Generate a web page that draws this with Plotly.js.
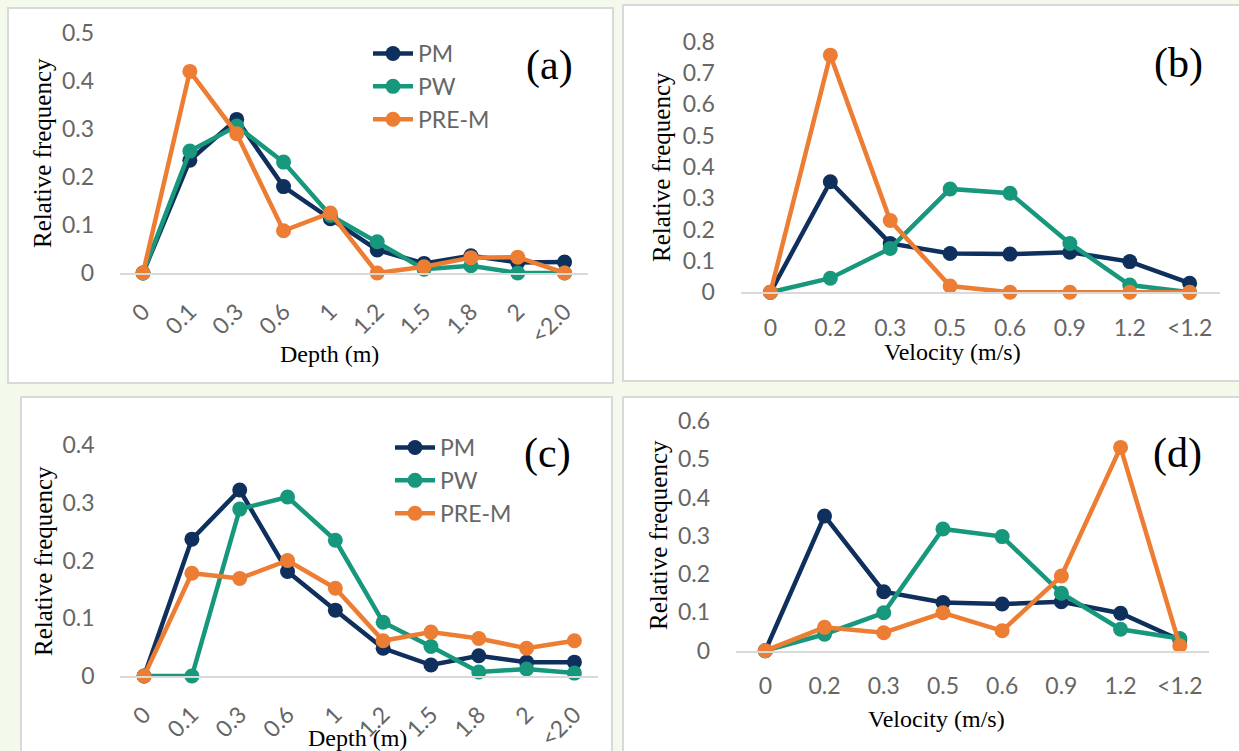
<!DOCTYPE html>
<html>
<head>
<meta charset="utf-8">
<script src="https://cdn.plot.ly/plotly-3.0.1.min.js"></script>
<style>
html,body{margin:0;padding:0;background:#f3f9eb;}
#chart{width:1239px;height:751px;}
</style>
</head>
<body>
<div id="chart"></div>
<script>
// ---------- DATA ----------
const depthCats = ['0', '0.1', '0.3', '0.6', '1', '1.2', '1.5', '1.8', '2', '<2.0'];
const velCats = ['0', '0.2', '0.3', '0.5', '0.6', '0.9', '1.2', '<1.2'];
const seriesNames = ['PM', 'PW', 'PRE-M'];

// (a) depth
const aPM   = [0, 0.235, 0.320, 0.180, 0.113, 0.048, 0.020, 0.036, 0.022, 0.023];
const aPW   = [0, 0.254, 0.306, 0.231, 0.120, 0.065, 0.008, 0.015, 0.000, 0.000];
const aPREM = [0, 0.420, 0.290, 0.088, 0.125, 0.000, 0.013, 0.032, 0.033, 0.000];

// (b) velocity
const bPM   = [0, 0.353, 0.156, 0.124, 0.122, 0.128, 0.098, 0.029];
const bPW   = [0, 0.045, 0.140, 0.330, 0.316, 0.156, 0.023, 0.000];
const bPREM = [0, 0.757, 0.229, 0.020, 0.000, 0.000, 0.000, 0.000];

// (c) depth
const cPM   = [0, 0.237, 0.322, 0.181, 0.114, 0.048, 0.019, 0.035, 0.024, 0.024];
const cPW   = [0, 0.000, 0.289, 0.310, 0.235, 0.093, 0.051, 0.007, 0.012, 0.005];
const cPREM = [0, 0.178, 0.169, 0.200, 0.152, 0.061, 0.076, 0.065, 0.048, 0.061];

// (d) velocity
const dPM   = [0, 0.352, 0.154, 0.126, 0.122, 0.128, 0.098, 0.028];
const dPW   = [0, 0.043, 0.099, 0.318, 0.298, 0.150, 0.056, 0.032];
const dPREM = [0, 0.061, 0.047, 0.099, 0.052, 0.195, 0.531, 0.013];

const yTicksA = [0, 0.1, 0.2, 0.3, 0.4, 0.5];
const yTicksB = [0, 0.1, 0.2, 0.3, 0.4, 0.5, 0.6, 0.7, 0.8];
const yTicksC = [0, 0.1, 0.2, 0.3, 0.4];
const yTicksD = [0, 0.1, 0.2, 0.3, 0.4, 0.5, 0.6];

// ---------- STYLE ----------
const W = 1239, H = 751;
const colors = ['#0f2f5c', '#17977b', '#ec7d33'];
const sansFam = 'Lato, "Open Sans", sans-serif';
const tickFont = {family: sansFam, size: 23, color: '#666666'};
const serif = 'Liberation Serif, "Times New Roman", serif';
const px = v => v / W;
const py = v => 1 - v / H;

function mk(x, y, i, xa, ya, legend, show) {
  return {
    type: 'scatter', mode: 'lines+markers', x: x, y: y, name: seriesNames[i],
    xaxis: xa, yaxis: ya, legend: legend, showlegend: show, legendgroup: legend + i,
    line: {color: colors[i], width: 4.5}, marker: {color: colors[i], size: 15},
    cliponaxis: false, hoverinfo: 'x+y+name'
  };
}

const data = [
  mk(depthCats, aPM, 0, 'x', 'y', 'legend', true),
  mk(depthCats, aPW, 1, 'x', 'y', 'legend', true),
  mk(depthCats, aPREM, 2, 'x', 'y', 'legend', true),
  mk(velCats, bPM, 0, 'x2', 'y2', 'legend', false),
  mk(velCats, bPW, 1, 'x2', 'y2', 'legend', false),
  mk(velCats, bPREM, 2, 'x2', 'y2', 'legend', false),
  mk(depthCats, cPM, 0, 'x3', 'y3', 'legend2', true),
  mk(depthCats, cPW, 1, 'x3', 'y3', 'legend2', true),
  mk(depthCats, cPREM, 2, 'x3', 'y3', 'legend2', true),
  mk(velCats, dPM, 0, 'x4', 'y4', 'legend', false),
  mk(velCats, dPW, 1, 'x4', 'y4', 'legend', false),
  mk(velCats, dPREM, 2, 'x4', 'y4', 'legend', false)
];

function xax(cats, d0, d1, anchor, angle, tl) {
  return {
    type: 'category', categoryorder: 'array', categoryarray: cats,
    range: [-0.5, cats.length - 0.5], domain: [px(d0), px(d1)], anchor: anchor,
    showgrid: false, zeroline: false, showline: true, linecolor: '#d9d9d9', linewidth: 2,
    ticks: 'outside', ticklen: tl, tickcolor: 'rgba(0,0,0,0)', tickangle: angle,
    tickfont: tickFont, fixedrange: true
  };
}
function yax(ticks, top, bottom, anchor) {
  return {
    range: [0, ticks[ticks.length - 1]], domain: [py(bottom), py(top)], anchor: anchor,
    tickvals: ticks, ticktext: ticks.map(String),
    showgrid: false, zeroline: false, showline: false,
    ticks: 'outside', ticklen: 20, tickcolor: 'rgba(0,0,0,0)',
    tickfont: tickFont, fixedrange: true
  };
}

const panel = (x0, y0, x1, y1) => ({
  type: 'rect', xref: 'paper', yref: 'paper', layer: 'below',
  x0: px(x0), x1: px(x1), y0: py(y1), y1: py(y0),
  fillcolor: '#ffffff', line: {color: '#d9d9d9', width: 2}
});

const ann = (text, x, y, size, rot) => ({
  text: text, xref: 'paper', yref: 'paper', x: px(x), y: py(y),
  xanchor: 'center', yanchor: 'middle', showarrow: false, textangle: rot || 0,
  font: {family: serif, size: size, color: '#000000'}
});

const legendBase = {
  font: {family: sansFam, size: 23, color: '#666666'},
  bgcolor: 'rgba(0,0,0,0)', borderwidth: 0, xanchor: 'left', yanchor: 'top',
  xref: 'paper', yref: 'paper', tracegroupgap: 0, itemwidth: 40
};

const layout = {
  width: W, height: H,
  margin: {l: 0, r: 0, t: 0, b: 0},
  paper_bgcolor: '#f3f9eb', plot_bgcolor: 'rgba(0,0,0,0)',
  hovermode: 'closest',
  xaxis:  xax(depthCats, 119.6, 588.0, 'y', -45, 14),
  yaxis:  yax(yTicksA, 33, 273, 'x'),
  xaxis2: xax(velCats, 740.5, 1219.6, 'y2', 0, 14),
  yaxis2: yax(yTicksB, 41.7, 292.3, 'x2'),
  xaxis3: xax(depthCats, 120.2, 598.3, 'y3', -45, 14),
  yaxis3: yax(yTicksC, 445, 676, 'x3'),
  xaxis4: xax(velCats, 735.7, 1209.4, 'y4', 0, 14),
  yaxis4: yax(yTicksD, 421, 650.7, 'x4'),
  legend:  Object.assign({}, legendBase, {x: px(368), y: py(32)}),
  legend2: Object.assign({}, legendBase, {x: px(390), y: py(426)}),
  shapes: [
    panel(8, 8, 613, 383),
    panel(623, 5, 1250, 381),
    panel(21, 397, 612, 770),
    panel(623, 397, 1250, 770)
  ],
  annotations: [
    ann('(a)', 549, 66, 42), ann('(b)', 1178, 63, 42),
    ann('(c)', 547, 453, 42), ann('(d)', 1177, 453, 42),
    ann('Relative frequency', 42, 153, 25, -90),
    ann('Relative frequency', 662, 167, 25, -90),
    ann('Relative frequency', 43, 561, 25, -90),
    ann('Relative frequency', 658, 535, 25, -90),
    ann('Depth (m)', 329, 354, 24),
    ann('Velocity (m/s)', 952, 352, 24),
    ann('Depth (m)', 357, 738, 24),
    ann('Velocity (m/s)', 936, 719, 24)
  ]
};

Plotly.newPlot('chart', data, layout, {displayModeBar: false, responsive: false});
</script>
</body>
</html>
